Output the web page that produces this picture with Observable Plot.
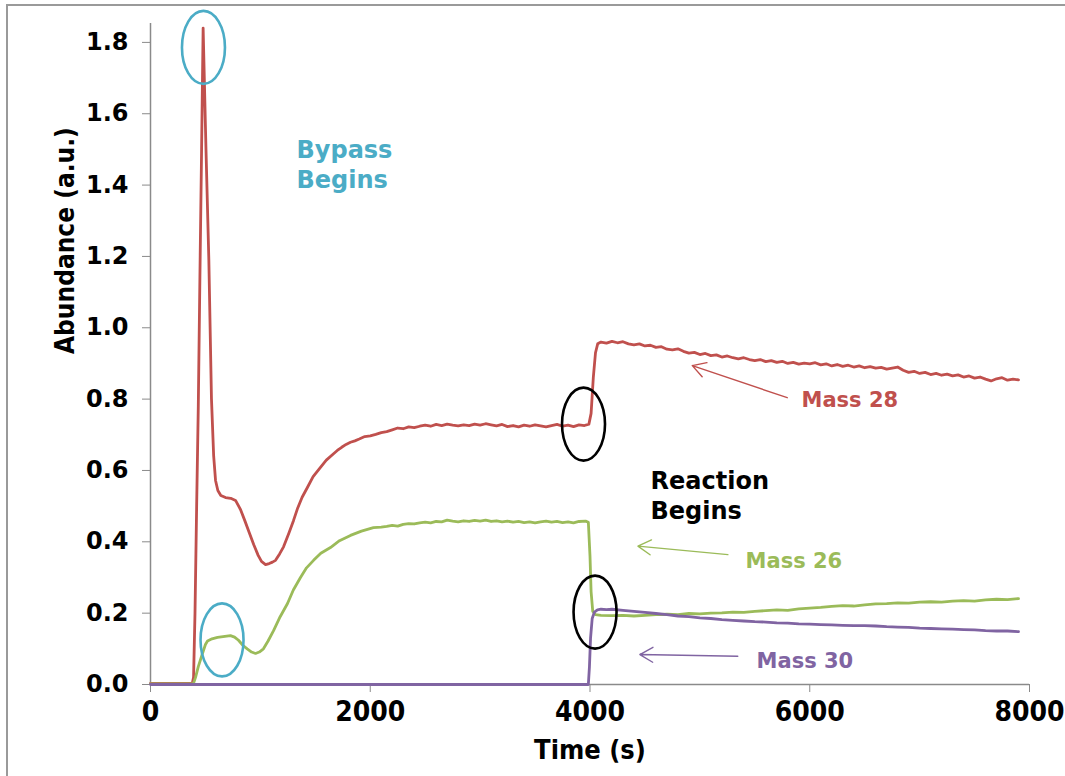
<!DOCTYPE html>
<html>
<head>
<meta charset="utf-8">
<script src="https://cdn.jsdelivr.net/npm/d3@7"></script>
<script src="https://cdn.jsdelivr.net/npm/@observablehq/plot@0.6"></script>
<style>
  html, body { margin: 0; padding: 0; background: #fff; }
  #wrap { position: relative; width: 1065px; height: 776px; overflow: hidden; }
  #edge { position: absolute; left: 6px; top: 4px; right: -4px; bottom: -4px;
          border-top: 2px solid #9a9a9a; border-left: 2px solid #9a9a9a; pointer-events: none; }
  #chart svg g[aria-label^="y-axis"] { color: #8a8a8a; }
  #chart svg g[aria-label^="x-axis"] { color: #8a8a8a; }
  #chart svg g[aria-label^="y-axis"] text {
    font-family: "DejaVu Sans", Verdana, sans-serif; font-weight: bold; font-size: 24px; fill: #000;
  }
  #chart svg g[aria-label^="x-axis"] text {
    font-family: "DejaVu Sans Condensed", "DejaVu Sans", sans-serif; font-stretch: condensed;
    font-weight: bold; font-size: 28px; fill: #000;
  }
</style>
</head>
<body>
<div id="wrap"><div id="chart"></div><div id="edge"></div></div>
<script>
// Mass spectrometer signals, [time (s), abundance (a.u.)]
const mass28 = [
  [0,0.003],[200,0.003],[380,0.003],[392,0.02],[405,0.2],[420,0.5],[435,0.78],[450,1.15],[465,1.5],[479,1.84],
  [505,1.5],[531,1.19],[555,0.8],[575,0.64],[592,0.572],[613,0.544],[640,0.53],[683,0.524],[730,0.522],[774,0.516],
  [820,0.49],[860,0.458],[900,0.425],[940,0.392],[980,0.362],[1010,0.345],[1047,0.336],[1080,0.339],[1110,0.343],
  [1138,0.348],[1175,0.366],[1211,0.386],[1260,0.425],[1302,0.46],[1340,0.495],[1380,0.525],[1429,0.553],[1480,0.583],
  [1547,0.609],[1600,0.629],[1666,0.647],[1700,0.656],[1740,0.665],[1780,0.673],[1820,0.679],[1860,0.683],
  [1900,0.688],[1950,0.695],[2000,0.697],[2050,0.701],[2100,0.706],[2150,0.709],[2200,0.714],[2250,0.719],
  [2300,0.717],[2350,0.722],[2400,0.72],[2450,0.724],[2500,0.727],[2550,0.724],[2600,0.729],[2650,0.726],
  [2700,0.73],[2750,0.727],[2800,0.725],[2850,0.728],[2900,0.726],[2950,0.73],[3000,0.727],[3050,0.731],
  [3100,0.728],[3150,0.725],[3200,0.729],[3250,0.723],[3300,0.726],[3350,0.722],[3400,0.727],[3450,0.724],
  [3500,0.728],[3550,0.725],[3600,0.722],[3650,0.726],[3700,0.729],[3750,0.724],[3800,0.727],[3850,0.723],
  [3900,0.728],[3950,0.726],[3990,0.73],[4010,0.76],[4030,0.86],[4050,0.93],[4070,0.955],[4100,0.96],
  [4150,0.957],[4200,0.962],[4250,0.958],[4300,0.961],[4350,0.955],[4400,0.952],[4450,0.955],[4500,0.949],
  [4550,0.951],[4600,0.945],[4650,0.947],[4700,0.94],[4750,0.938],[4800,0.941],[4850,0.934],[4900,0.929],
  [4950,0.931],[5000,0.925],[5050,0.928],[5100,0.922],[5150,0.924],[5200,0.918],[5250,0.921],[5300,0.916],
  [5350,0.913],[5400,0.916],[5450,0.911],[5500,0.908],[5550,0.911],[5600,0.905],[5650,0.908],[5700,0.903],
  [5750,0.906],[5800,0.9],[5850,0.903],[5900,0.898],[5950,0.901],[6000,0.899],[6050,0.902],[6100,0.896],
  [6150,0.899],[6200,0.893],[6250,0.897],[6300,0.892],[6350,0.895],[6400,0.89],[6450,0.893],[6500,0.888],
  [6550,0.891],[6600,0.887],[6650,0.889],[6700,0.884],[6750,0.887],[6800,0.89],[6850,0.881],[6900,0.875],
  [6950,0.878],[7000,0.872],[7050,0.875],[7100,0.869],[7150,0.872],[7200,0.867],[7250,0.87],[7300,0.865],
  [7350,0.868],[7400,0.862],[7450,0.865],[7500,0.859],[7550,0.862],[7600,0.856],[7650,0.851],[7700,0.857],
  [7750,0.86],[7800,0.853],[7850,0.856],[7900,0.854]
];
const mass26 = [
  [0,0.002],[200,0.002],[390,0.002],[410,0.02],[435,0.05],[473,0.087],[500,0.112],[519,0.122],[560,0.128],
  [610,0.132],[660,0.134],[728,0.137],[765,0.133],[801,0.124],[840,0.11],[880,0.1],[920,0.091],[956,0.087],
  [990,0.091],[1028,0.1],[1070,0.122],[1120,0.151],[1180,0.19],[1247,0.227],[1300,0.265],[1365,0.3],
  [1420,0.327],[1484,0.348],[1550,0.368],[1638,0.384],[1720,0.403],[1820,0.418],[1920,0.43],[2029,0.44],
  [2100,0.441],[2150,0.443],[2200,0.446],[2250,0.444],[2300,0.449],[2350,0.451],[2400,0.45],[2450,0.453],
  [2500,0.455],[2550,0.453],[2600,0.457],[2650,0.456],[2700,0.461],[2750,0.458],[2800,0.456],[2850,0.459],
  [2900,0.457],[2950,0.46],[3000,0.458],[3050,0.461],[3100,0.457],[3150,0.459],[3200,0.456],[3250,0.458],
  [3300,0.455],[3350,0.457],[3400,0.454],[3450,0.456],[3500,0.453],[3550,0.456],[3600,0.458],[3650,0.455],
  [3700,0.457],[3750,0.454],[3800,0.456],[3850,0.453],[3900,0.457],[3960,0.458],[3985,0.455],[4000,0.36],
  [4010,0.26],[4025,0.205],[4050,0.196],[4100,0.194],[4200,0.193],[4300,0.194],[4400,0.192],[4500,0.194],
  [4600,0.196],[4700,0.197],[4800,0.196],[4900,0.199],[5000,0.198],[5100,0.2],[5200,0.201],[5300,0.203],
  [5400,0.202],[5500,0.205],[5600,0.207],[5700,0.209],[5800,0.208],[5900,0.212],[6000,0.214],[6100,0.216],
  [6200,0.219],[6300,0.221],[6400,0.22],[6500,0.223],[6600,0.226],[6700,0.227],[6800,0.229],[6900,0.228],
  [7000,0.231],[7100,0.232],[7200,0.231],[7300,0.234],[7400,0.235],[7500,0.234],[7600,0.237],[7700,0.239],
  [7800,0.238],[7900,0.241]
];
const mass30 = [
  [0,0.0],[2000,0.0],[3985,0.0],[3995,0.05],[4005,0.13],[4020,0.185],[4040,0.203],[4068,0.209],[4100,0.211],
  [4150,0.21],[4200,0.211],[4300,0.208],[4400,0.205],[4500,0.202],[4600,0.199],[4700,0.196],[4800,0.192],
  [4900,0.19],[5000,0.187],[5100,0.185],[5200,0.182],[5300,0.18],[5400,0.178],[5500,0.176],[5600,0.175],
  [5700,0.173],[5800,0.172],[5900,0.17],[6000,0.169],[6100,0.168],[6200,0.167],[6300,0.166],[6400,0.165],
  [6500,0.165],[6600,0.164],[6700,0.162],[6800,0.161],[6900,0.16],[7000,0.158],[7100,0.157],[7200,0.156],
  [7300,0.155],[7400,0.154],[7500,0.153],[7600,0.151],[7700,0.15],[7800,0.15],[7900,0.148]
];

const yTicks = [0, 0.2, 0.4, 0.6, 0.8, 1.0, 1.2, 1.4, 1.6, 1.8];
const xTicks = [0, 2000, 4000, 6000, 8000];

// Event markers: centre of each ring [time, abundance]
const bypassRings = [[482, 1.786], [651, 0.125]];
const reactionRings = [[3941, 0.730], [4046, 0.203]];

// Callout arrows: tail -> head
const arrows = [
  {x1: 5795, y1: 0.804, x2: 4931, y2: 0.894, color: "#C0504D"},
  {x1: 5255, y1: 0.364, x2: 4436, y2: 0.388, color: "#9BBB59"},
  {x1: 5345, y1: 0.079, x2: 4454, y2: 0.084, color: "#8064A2"}
];
const seriesLabels = [
  {x: 5925, y: 0.796, text: "Mass 28", color: "#C0504D"},
  {x: 5416, y: 0.346, text: "Mass 26", color: "#9BBB59"},
  {x: 5516, y: 0.066, text: "Mass 30", color: "#8064A2"}
];
const notes = [
  {x: 1329, y: 1.461, text: "Bypass\nBegins", color: "#4BACC6"},
  {x: 4551, y: 0.534, text: "Reaction\nBegins", color: "#000000"}
];

// Upright ellipse drawn as a path symbol (four cubic segments)
const ring = {
  draw(ctx) {
    const rx = 21.5, ry = 36.5, k = 0.5523;
    ctx.moveTo(rx, 0);
    ctx.bezierCurveTo(rx, ry * k, rx * k, ry, 0, ry);
    ctx.bezierCurveTo(-rx * k, ry, -rx, ry * k, -rx, 0);
    ctx.bezierCurveTo(-rx, -ry * k, -rx * k, -ry, 0, -ry);
    ctx.bezierCurveTo(rx * k, -ry, rx, -ry * k, rx, 0);
    ctx.closePath();
  }
};

const labelFont = {fontFamily: "DejaVu Sans, Verdana, sans-serif", fontWeight: "bold"};
const axisTitleFont = {fontFamily: "DejaVu Sans Condensed, DejaVu Sans, sans-serif", fontWeight: "bold"};

const chart = Plot.plot({
  width: 1065,
  height: 776,
  marginLeft: 150,
  marginRight: 36,
  marginTop: 23,
  marginBottom: 92,
  style: {background: "transparent", overflow: "visible"},
  x: {domain: [0, 8000], ticks: xTicks, tickSize: 8, tickPadding: 9, tickFormat: d => String(d), label: null},
  y: {domain: [0, 1.853], ticks: yTicks, tickSize: 8, tickPadding: 14, tickFormat: d => d.toFixed(1), label: null},
  marks: [
    Plot.ruleY([0], {x1: 0, x2: 8000, stroke: "#8a8a8a", strokeWidth: 1.5}),
    Plot.ruleX([0], {y1: 0, y2: 1.853, stroke: "#8a8a8a", strokeWidth: 1.5}),
    Plot.line(mass28, {x: d => d[0], y: d => d[1], stroke: "#C0504D", strokeWidth: 2.8}),
    Plot.line(mass26, {x: d => d[0], y: d => d[1], stroke: "#9BBB59", strokeWidth: 2.8}),
    Plot.line(mass30, {x: d => d[0], y: d => d[1], stroke: "#8064A2", strokeWidth: 2.8}),
    Plot.dot(bypassRings, {x: d => d[0], y: d => d[1], symbol: ring, r: 5, fill: "none", stroke: "#4BACC6", strokeWidth: 2.6}),
    Plot.dot(reactionRings, {x: d => d[0], y: d => d[1], symbol: ring, r: 5, fill: "none", stroke: "#000", strokeWidth: 2.6}),
    Plot.arrow(arrows, {x1: "x1", y1: "y1", x2: "x2", y2: "y2", stroke: d => d.color, strokeWidth: 1.4, headLength: 16, bend: 0}),
    Plot.text(seriesLabels, {x: "x", y: "y", text: "text", fill: d => d.color, textAnchor: "start", lineAnchor: "middle", fontSize: 21, ...labelFont}),
    Plot.text(notes, {x: "x", y: "y", text: "text", fill: d => d.color, textAnchor: "start", lineAnchor: "middle", lineHeight: 1.25, fontSize: 24, ...labelFont}),
    Plot.text(["Time (s)"], {frameAnchor: "bottom", dy: 66, text: d => d, lineAnchor: "middle", fill: "#000", fontSize: 27, ...axisTitleFont}),
    Plot.text(["Abundance (a.u.)"], {frameAnchor: "left", dx: -85, rotate: -90, text: d => d, lineAnchor: "middle", fill: "#000", fontSize: 26, ...axisTitleFont})
  ]
});
document.getElementById("chart").appendChild(chart);
</script>
</body>
</html>
